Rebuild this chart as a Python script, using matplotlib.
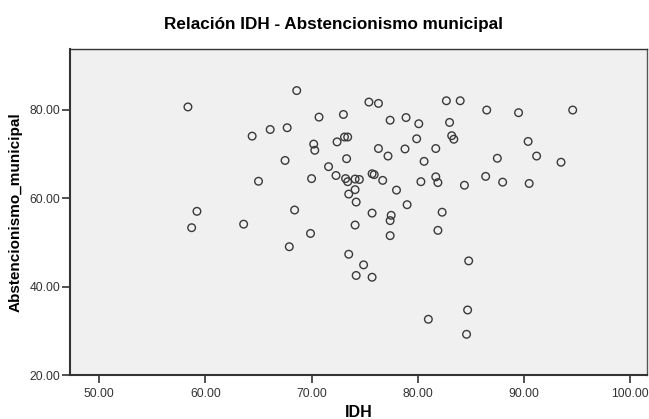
import matplotlib
matplotlib.use("Agg")
import matplotlib.pyplot as plt
from matplotlib.ticker import FormatStrFormatter

idh = [58.35, 64.4, 65.0, 59.2, 58.7, 63.6, 68.6, 75.4, 76.3, 82.7,
       70.7, 73.0, 77.4, 78.9, 80.1, 83.0, 66.1, 67.7, 70.2, 70.3,
       72.4, 73.1, 73.4, 83.2, 83.4, 76.3, 77.2, 78.8, 81.7, 73.3,
       67.5, 80.6, 71.6, 70.0, 72.3, 73.2, 73.4, 74.1, 74.5, 75.7,
       75.9, 76.7, 78.0, 80.3, 81.7, 81.9, 74.1, 73.5, 74.2, 68.4,
       79.0, 75.7, 77.5, 77.4, 82.3, 74.1, 69.9, 77.4, 81.9, 84.0,
       86.5, 89.5, 94.6, 90.4, 87.5, 91.2, 93.5, 84.4, 86.4, 88.0,
       90.5, 67.9, 73.5, 74.9, 74.2, 75.7, 81.0, 84.8, 84.7, 84.6,
       79.9]
abst = [80.6, 74.0, 63.8, 57.0, 53.3, 54.1, 84.3, 81.7, 81.4, 82.0,
        78.3, 78.9, 77.6, 78.2, 76.8, 77.1, 75.5, 75.9, 72.2, 70.8,
        72.7, 73.8, 73.8, 74.1, 73.3, 71.2, 69.5, 71.1, 71.2, 68.9,
        68.5, 68.3, 67.1, 64.4, 65.1, 64.4, 63.7, 64.3, 64.2, 65.5,
        65.3, 64.0, 61.8, 63.7, 64.8, 63.5, 61.9, 60.9, 59.1, 57.3,
        58.5, 56.6, 56.1, 54.9, 56.8, 53.9, 52.0, 51.5, 52.7, 82.0,
        79.9, 79.3, 79.9, 72.8, 69.0, 69.5, 68.1, 62.9, 64.9, 63.6,
        63.3, 49.0, 47.3, 44.9, 42.5, 42.1, 32.6, 45.8, 34.7, 29.2,
        73.4]

x_ticks = [50, 60, 70, 80, 90, 100]
y_ticks = [20, 40, 60, 80]

plt.rcParams['font.family'] = ['Liberation Sans', 'DejaVu Sans']

fig = plt.figure(figsize=(6.49, 4.19), dpi=100)
ax = fig.add_axes([70/649, 44/419, 577/649, 326/419])
ax.set_facecolor('#f0f0f0')
ax.scatter(idh, abst, s=30, facecolors='none', edgecolors='#3a3a3a', linewidths=1.0)

ax.set_xlim(47.24, 101.6)
ax.set_ylim(20, 93.7)
ax.set_xticks(x_ticks)
ax.set_yticks(y_ticks)
ax.xaxis.set_major_formatter(FormatStrFormatter('%.2f'))
ax.yaxis.set_major_formatter(FormatStrFormatter('%.2f'))
ax.tick_params(axis='both', direction='out', length=6, width=1.2, color='#333333',
               labelsize=8.7, labelcolor='#333333', pad=1)
ax.tick_params(axis='x', pad=3)

for side in ['left', 'bottom']:
    ax.spines[side].set_linewidth(1.5)
    ax.spines[side].set_color('#333333')
ax.spines['top'].set_linewidth(1.0)
ax.spines['top'].set_color('#333333')
ax.spines['right'].set_linewidth(1.0)
ax.spines['right'].set_color('#555555')

ax.set_xlabel('IDH', fontsize=11.5, fontweight='bold', labelpad=4)
ax.set_ylabel('Abstencionismo_municipal', fontsize=11, fontweight='bold', labelpad=5)
fig.text(333/649, 1 - 24/419, 'Relación IDH - Abstencionismo municipal',
         ha='center', va='center', fontsize=12.3, fontweight='bold')

fig.savefig('out.png', dpi=100, facecolor='white')
